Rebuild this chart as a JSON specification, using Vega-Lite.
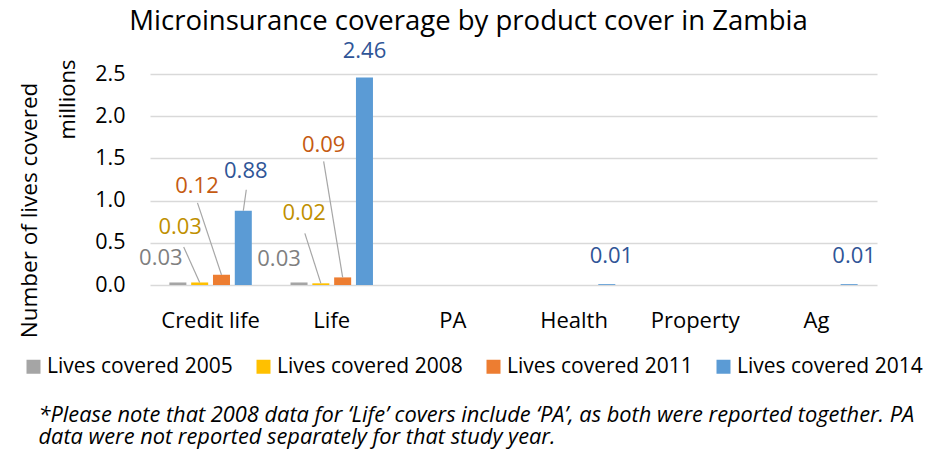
{
  "$schema": "https://vega.github.io/schema/vega-lite/v6.json",
  "autosize": "none",
  "width": 727,
  "height": 211,
  "padding": {"left": 150, "top": 74, "right": 71, "bottom": 184},
  "config": {"font": "Open Sans", "view": {"stroke": null}},
  "title": {
    "text": "Microinsurance coverage by product cover in Zambia",
    "font": "Open Sans",
    "fontSize": 27.5,
    "fontWeight": "normal",
    "color": "#000000",
    "anchor": "middle",
    "frame": "group",
    "baseline": "alphabetic",
    "dx": -45,
    "offset": -18
  },
  "data": {
    "values": [
      {"category": "Credit life", "year": "2005", "value": 0.03},
      {"category": "Credit life", "year": "2008", "value": 0.03},
      {"category": "Credit life", "year": "2011", "value": 0.12},
      {"category": "Credit life", "year": "2014", "value": 0.88},
      {"category": "Life", "year": "2005", "value": 0.03},
      {"category": "Life", "year": "2008", "value": 0.02},
      {"category": "Life", "year": "2011", "value": 0.09},
      {"category": "Life", "year": "2014", "value": 2.46},
      {"category": "Health", "year": "2014", "value": 0.01},
      {"category": "Ag", "year": "2014", "value": 0.01}
    ]
  },
  "encoding": {
    "x": {
      "field": "category",
      "type": "nominal",
      "sort": null,
      "scale": {
        "domain": ["Credit life", "Life", "PA", "Health", "Property", "Ag"],
        "paddingInner": 0.28,
        "paddingOuter": 0.14
      },
      "axis": {
        "title": [
          "*Please note that 2008 data for ‘Life’ covers include ‘PA’, as both were reported together. PA",
          "data were not reported separately for that study year."
        ],
        "titleFont": "Open Sans",
        "titleFontSize": 21.8,
        "titleFontStyle": "italic",
        "titleFontWeight": "normal",
        "titleColor": "#000000",
        "titleAnchor": "start",
        "titleAlign": "left",
        "titleBaseline": "alphabetic",
        "titleLineHeight": 22.5,
        "titleX": -112,
        "titleY": 136,
        "labelAngle": 0,
        "labelFontSize": 22,
        "labelColor": "#000000",
        "labelBaseline": "alphabetic",
        "labelPadding": 42,
        "ticks": false,
        "domain": false,
        "grid": false
      }
    },
    "xOffset": {
      "field": "year",
      "type": "nominal",
      "scale": {
        "domain": ["2005", "2008", "2011", "2014"],
        "paddingInner": 0.22,
        "paddingOuter": 0.11
      }
    }
  },
  "layer": [
    {
      "mark": {"type": "bar"},
      "encoding": {
        "y": {
          "field": "value",
          "type": "quantitative",
          "scale": {"domain": [0, 2.5], "nice": false},
          "axis": {
            "title": "Number of lives covered",
            "titleFontSize": 22.5,
            "titleFontWeight": "normal",
            "titleColor": "#000000",
            "titleAngle": -90,
            "titleAlign": "center",
            "titleBaseline": "alphabetic",
            "titleX": -114,
            "titleY": 136,
            "values": [0, 0.5, 1, 1.5, 2, 2.5],
            "format": ".1f",
            "labelFontSize": 21.5,
            "labelColor": "#000000",
            "labelPadding": 25,
            "ticks": false,
            "domain": false,
            "grid": true,
            "gridColor": "#d9d9d9",
            "gridWidth": 1.3
          }
        },
        "color": {
          "field": "year",
          "type": "nominal",
          "scale": {
            "domain": ["2005", "2008", "2011", "2014"],
            "range": ["#a5a5a5", "#ffc000", "#ed7d31", "#5b9bd5"]
          },
          "legend": {
            "title": null,
            "orient": "none",
            "direction": "horizontal",
            "legendX": -127,
            "legendY": 282,
            "labelExpr": "'Lives covered ' + datum.label",
            "labelFontSize": 21,
            "labelColor": "#000000",
            "labelLimit": 0,
            "labelOffset": 3,
            "symbolType": "square",
            "symbolSize": 196,
            "symbolStrokeWidth": 0,
            "columnPadding": 20
          }
        }
      }
    },
    {
      "transform": [
        {"filter": "indexof(['Credit life|2008', 'Credit life|2011', 'Credit life|2014', 'Life|2008', 'Life|2011'], datum.category + '|' + datum.year) >= 0"}
      ],
      "mark": {
        "type": "rule",
        "color": "#a6a6a6",
        "strokeWidth": 1.2,
        "x2Offset": {"expr": "({'Credit life|2008': -26.9, 'Credit life|2011': -13.1, 'Credit life|2014': 35.7, 'Life|2008': -26.9, 'Life|2011': -8.1})[datum.category + '|' + datum.year]"},
        "y2Offset": {"expr": "({'Credit life|2008': -35.5, 'Credit life|2011': -72, 'Credit life|2014': -21, 'Life|2008': -50, 'Life|2011': -116})[datum.category + '|' + datum.year]"}
      },
      "encoding": {
        "x2": {"field": "category"},
        "y": {"field": "value", "type": "quantitative", "axis": null},
        "y2": {"field": "value"}
      }
    },
    {
      "mark": {
        "type": "text",
        "fontSize": 22,
        "baseline": "middle",
        "align": "center",
        "color": {"expr": "datum.year == '2005' ? '#7f7f7f' : datum.year == '2008' ? '#bf9000' : datum.year == '2011' ? '#c55a11' : '#2f5597'"},
        "dx": {"expr": "({'Credit life|2005': -17, 'Credit life|2008': -19.5, 'Credit life|2011': -24.5, 'Credit life|2014': 2.5, 'Life|2005': -20, 'Life|2008': -16.7, 'Life|2011': -19, 'Life|2014': 0, 'Health|2014': 4.6, 'Ag|2014': 5})[datum.category + '|' + datum.year]"},
        "dy": {"expr": "({'Credit life|2005': -24.5, 'Credit life|2008': -55, 'Credit life|2011': -89, 'Credit life|2014': -40, 'Life|2005': -23.5, 'Life|2008': -70, 'Life|2011': -132, 'Life|2014': -26.5, 'Health|2014': -28, 'Ag|2014': -28})[datum.category + '|' + datum.year]"}
      },
      "encoding": {
        "y": {
          "field": "value",
          "type": "quantitative",
          "axis": {
            "title": "millions",
            "orient": "left",
            "titleFontSize": 22,
            "titleFontWeight": "normal",
            "titleColor": "#000000",
            "titleAngle": -90,
            "titleAlign": "center",
            "titleBaseline": "alphabetic",
            "titleX": -76,
            "titleY": 25,
            "labels": false,
            "ticks": false,
            "domain": false,
            "grid": false
          }
        },
        "text": {"field": "value", "type": "quantitative", "format": ".2f"}
      }
    }
  ],
  "resolve": {"axis": {"y": "independent"}}
}
